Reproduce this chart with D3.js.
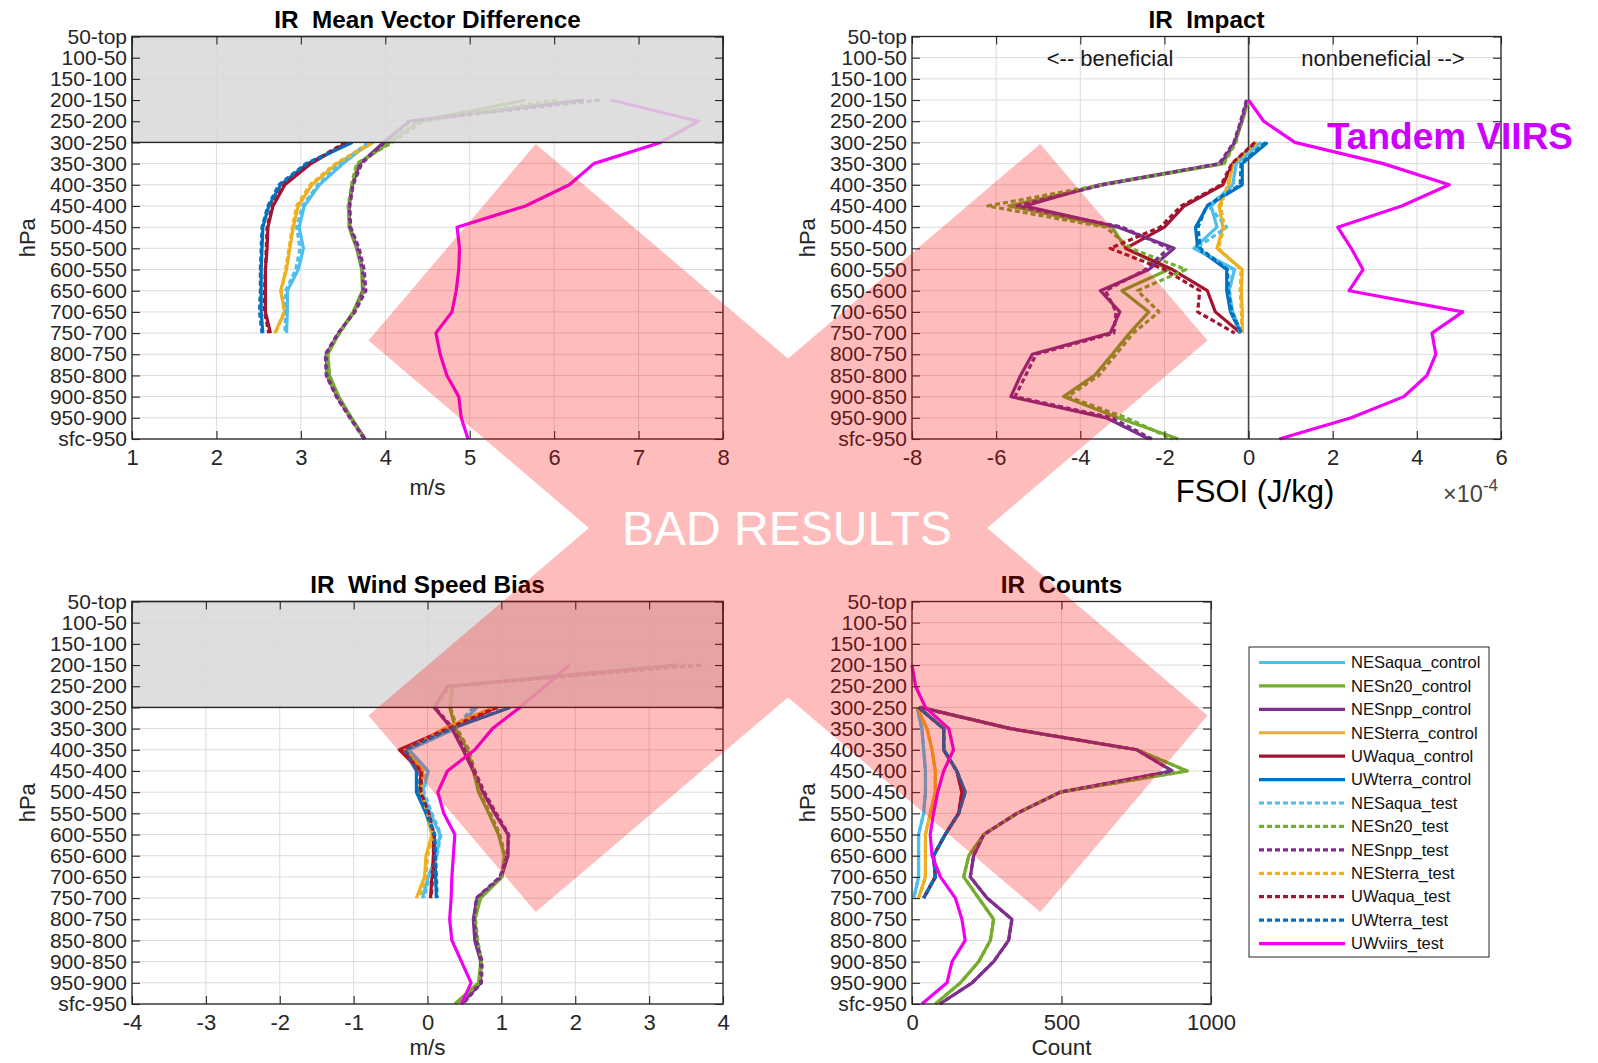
<!DOCTYPE html>
<html>
<head>
<meta charset="utf-8">
<script src="https://cdn.jsdelivr.net/npm/d3@7"></script>
<style>
  body { margin: 0; background: #fff; }
  svg { font-family: 'Liberation Sans', Arial, Helvetica, sans-serif; }
</style>
</head>
<body>
<div class="chart"></div>
<script>
const _ = null;

// pressure layers, top of the atmosphere first
const levels = ['50-top', '100-50', '150-100', '200-150', '250-200', '300-250', '350-300',
  '400-350', '450-400', '500-450', '550-500', '600-550', '650-600', '700-650', '750-700',
  '800-750', '850-800', '900-850', '950-900', 'sfc-950'];

const seriesNames = ['NESaqua_control', 'NESn20_control', 'NESnpp_control', 'NESterra_control',
  'UWaqua_control', 'UWterra_control', 'NESaqua_test', 'NESn20_test', 'NESnpp_test',
  'NESterra_test', 'UWaqua_test', 'UWterra_test', 'UWviirs_test'];
const seriesColors = ['#4DBEEE', '#77AC30', '#7E2F8E', '#EDB120', '#A2142F', '#0072BD',
  '#4DBEEE', '#77AC30', '#7E2F8E', '#EDB120', '#A2142F', '#0072BD', '#F000F4'];

// ---- IR Mean Vector Difference (m/s)
const mvdNESaquaCtl  = [_,_,_,_,_, 3.82,3.50,3.22,3.04,2.98,3.03,2.97,2.84,2.84,2.83, _,_,_,_,_];
const mvdNESn20Ctl   = [_,_,_, 5.66,4.40,4.05,3.68,3.61,3.57,3.57,3.66,3.72,3.73,3.62,3.45,3.32,3.34,3.45,3.60,3.76];
const mvdNESnppCtl   = [_,_,_, 6.35,4.28,3.98,3.70,3.61,3.57,3.58,3.67,3.73,3.74,3.63,3.45,3.30,3.31,3.43,3.59,3.76];
const mvdNESterraCtl = [_,_,_,_,_, 3.86,3.43,3.13,2.97,2.91,2.87,2.83,2.76,2.81,2.69, _,_,_,_,_];
const mvdUWaquaCtl   = [_,_,_,_,_, 3.55,3.12,2.81,2.67,2.61,2.60,2.58,2.58,2.58,2.64, _,_,_,_,_];
const mvdUWterraCtl  = [_,_,_,_,_, 3.61,3.08,2.76,2.62,2.55,2.54,2.53,2.53,2.53,2.55, _,_,_,_,_];
const mvdNESaquaTst  = [_,_,_,_,_, 3.80,3.47,3.20,3.02,2.95,2.99,2.94,2.82,2.82,2.81, _,_,_,_,_];
const mvdNESn20Tst   = [_,_,_, 6.03,4.45,4.08,3.66,3.60,3.56,3.58,3.67,3.73,3.75,3.63,3.46,3.31,3.32,3.44,3.59,3.75];
const mvdNESnppTst   = [_,_,_, 6.54,4.30,3.99,3.72,3.62,3.58,3.59,3.69,3.75,3.77,3.64,3.44,3.29,3.30,3.42,3.58,3.75];
const mvdNESterraTst = [_,_,_,_,_, 3.84,3.41,3.11,2.95,2.90,2.86,2.82,2.77,2.80,2.70, _,_,_,_,_];
const mvdUWaquaTst   = [_,_,_,_,_, 3.53,3.10,2.80,2.66,2.60,2.59,2.58,2.57,2.57,2.62, _,_,_,_,_];
const mvdUWterraTst  = [_,_,_,_,_, 3.60,3.06,2.74,2.61,2.54,2.53,2.52,2.52,2.51,2.54, _,_,_,_,_];
const mvdUWviirsTst  = [_,_,_, 6.67,7.71,7.26,6.47,6.18,5.66,4.85,4.88,4.87,4.84,4.79,4.60,4.65,4.73,4.87,4.90,4.98];

// ---- IR Impact, FSOI in units of 1e-4 J/kg
const fsoiNESaquaCtl  = [_,_,_,_,_, 0.31,-0.29,-0.38,-0.89,-0.75,-1.30,-0.33,-0.47,-0.38,-0.17, _,_,_,_,_];
const fsoiNESn20Ctl   = [_,_,_, 0.00,-0.15,-0.33,-0.61,-3.45,-5.70,-3.24,-2.92,-1.90,-3.01,-2.37,-2.83,-3.24,-3.66,-4.40,-3.10,-1.67];
const fsoiNESnppCtl   = [_,_,_, -0.03,-0.17,-0.33,-0.66,-3.55,-5.32,-3.10,-1.77,-2.37,-3.52,-3.06,-3.29,-5.14,-5.42,-5.65,-3.38,-2.37];
const fsoiNESterraCtl = [_,_,_,_,_, 0.22,-0.38,-0.47,-0.70,-0.61,-0.75,-0.15,-0.17,-0.15,-0.15, _,_,_,_,_];
const fsoiUWaquaCtl   = [_,_,_,_,_, 0.18,-0.38,-0.61,-1.53,-2.00,-2.92,-1.81,-0.98,-0.79,-0.19, _,_,_,_,_];
const fsoiUWterraCtl  = [_,_,_,_,_, 0.45,-0.15,-0.15,-0.98,-1.26,-1.21,-0.52,-0.52,-0.43,-0.19, _,_,_,_,_];
const fsoiNESaquaTst  = [_,_,_,_,_, 0.28,-0.31,-0.36,-0.95,-0.52,-1.25,-0.36,-0.45,-0.40,-0.19, _,_,_,_,_];
const fsoiNESn20Tst   = [_,_,_, -0.02,-0.17,-0.30,-0.58,-3.50,-6.20,-3.40,-2.80,-1.49,-2.64,-2.13,-2.74,-3.15,-3.56,-4.30,-2.90,-1.81];
const fsoiNESnppTst   = [_,_,_, -0.05,-0.19,-0.35,-0.70,-3.45,-5.50,-3.00,-1.90,-2.45,-3.40,-3.15,-3.20,-5.05,-5.30,-5.55,-3.25,-2.30];
const fsoiNESterraTst = [_,_,_,_,_, 0.20,-0.36,-0.50,-0.66,-0.58,-0.72,-0.18,-0.20,-0.17,-0.16, _,_,_,_,_];
const fsoiUWaquaTst   = [_,_,_,_,_, 0.15,-0.40,-0.65,-1.60,-2.10,-3.29,-2.00,-1.16,-1.21,-0.33, _,_,_,_,_];
const fsoiUWterraTst  = [_,_,_,_,_, 0.40,-0.18,-0.20,-1.00,-1.20,-1.15,-0.50,-0.48,-0.40,-0.17, _,_,_,_,_];
const fsoiUWviirsTst  = [_,_,_, 0.00,0.36,1.10,3.20,4.77,3.64,2.12,2.44,2.72,2.39,5.09,4.36,4.45,4.24,3.69,2.44,0.73];

// ---- IR Wind Speed Bias (m/s)
const biasNESaquaCtl  = [_,_,_,_,_, 0.67,0.38,-0.25,0.01,-0.07,0.04,0.17,0.12,0.01,-0.07, _,_,_,_,_];
const biasNESn20Ctl   = [_,_,_, 3.35,0.33,0.30,0.38,0.54,0.62,0.69,0.83,0.96,1.04,1.01,0.72,0.64,0.67,0.72,0.69,0.37];
const biasNESnppCtl   = [_,_,_, 3.40,0.27,0.09,0.33,0.48,0.62,0.75,0.91,1.09,1.09,1.00,0.67,0.62,0.64,0.72,0.72,0.46];
const biasNESterraCtl = [_,_,_,_,_, 0.90,0.22,-0.28,-0.07,-0.10,-0.02,0.06,-0.02,-0.04,-0.15, _,_,_,_,_];
const biasUWaquaCtl   = [_,_,_,_,_, 0.93,0.27,-0.38,-0.09,-0.10,0.01,0.08,0.08,0.06,0.04, _,_,_,_,_];
const biasUWterraCtl  = [_,_,_,_,_, 1.12,0.33,-0.31,-0.15,-0.15,-0.02,0.09,0.10,0.11,0.12, _,_,_,_,_];
const biasNESaquaTst  = [_,_,_,_,_, 0.62,0.36,-0.27,0.00,-0.05,0.06,0.18,0.13,0.03,-0.05, _,_,_,_,_];
const biasNESn20Tst   = [_,_,_, 3.50,0.35,0.31,0.40,0.56,0.64,0.70,0.85,0.98,1.05,1.00,0.70,0.65,0.68,0.73,0.70,0.40];
const biasNESnppTst   = [_,_,_, 3.70,0.29,0.10,0.35,0.50,0.64,0.77,0.93,1.10,1.08,0.98,0.66,0.63,0.66,0.74,0.73,0.48];
const biasNESterraTst = [_,_,_,_,_, 0.88,0.24,-0.30,-0.05,-0.09,0.00,0.08,0.00,-0.02,-0.12, _,_,_,_,_];
const biasUWaquaTst   = [_,_,_,_,_, 0.95,0.28,-0.36,-0.08,-0.09,0.02,0.09,0.09,0.07,0.05, _,_,_,_,_];
const biasUWterraTst  = [_,_,_,_,_, 1.10,0.32,-0.30,-0.14,-0.14,-0.01,0.10,0.11,0.12,0.13, _,_,_,_,_];
const biasUWviirsTst  = [_,_,_, 1.92,1.59,1.25,0.88,0.64,0.27,0.14,0.22,0.37,0.35,0.33,0.32,0.30,0.33,0.46,0.59,0.46];

// ---- IR Counts
const cntNESaquaCtl  = [_,_,_,_,_, 17,33,39,45,45,39,22,22,22,6, _,_,_,_,_];
const cntNESn20Ctl   = [_,_,_,_,_, 28,329,752,920,496,351,240,190,173,223,273,262,223,162,78];
const cntNESnppCtl   = [_,_,_,_,_, 28,329,752,870,496,351,240,206,195,251,334,323,273,201,93];
const cntNESterraCtl = [_,_,_,_,_, 17,50,67,78,78,61,45,45,45,22, _,_,_,_,_];
const cntUWaquaCtl   = [_,_,_,_,_, 22,106,106,150,167,156,111,72,78,39, _,_,_,_,_];
const cntUWterraCtl  = [_,_,_,_,_, 22,106,106,150,178,156,111,72,78,39, _,_,_,_,_];
const cntNESaquaTst  = [_,_,_,_,_, 17,33,39,45,45,39,22,22,22,6, _,_,_,_,_];
const cntNESn20Tst   = [_,_,_,_,_, 28,329,752,920,496,351,240,190,173,223,273,262,223,162,78];
const cntNESnppTst   = [_,_,_,_,_, 28,329,752,870,496,351,240,206,195,251,334,323,273,201,93];
const cntNESterraTst = [_,_,_,_,_, 17,50,67,78,78,61,45,45,45,22, _,_,_,_,_];
const cntUWaquaTst   = [_,_,_,_,_, 22,106,106,150,167,156,111,72,78,39, _,_,_,_,_];
const cntUWterraTst  = [_,_,_,_,_, 22,106,106,150,178,156,111,72,78,39, _,_,_,_,_];
const cntUWviirsTst  = [_,_,_, 0,12,45,123,139,106,86,72,61,67,95,145,167,178,134,117,33];

const mvdTicks = [1, 2, 3, 4, 5, 6, 7, 8];
const fsoiTicks = [-8, -6, -4, -2, 0, 2, 4, 6];
const biasTicks = [-4, -3, -2, -1, 0, 1, 2, 3, 4];
const cntTicks = [0, 500, 1000];

const svg = d3.select('.chart')
  .append('svg')
    .attr('width', 1598)
    .attr('height', 1063)
    .attr('viewBox', '0 0 1598 1063');

const axisColor = '#262626';

const styleAxis = (sel, size) => {
  sel.attr('font-family', null)
    .attr('font-size', size)
    .attr('color', axisColor);
  sel.select('.domain').remove();
  sel.selectAll('.tick line').attr('stroke-width', 1.1);
};

const drawPanel = (p) => {
  const g = svg.append('g');
  const x = d3.scaleLinear().domain(p.domain).range([p.x0, p.x1]);
  const y = d3.scalePoint().domain(levels).range([p.y0, p.y1]);
  const w = p.x1 - p.x0, h = p.y1 - p.y0;

  // grid
  const grid = g.append('g').attr('class', 'grid');
  grid.selectAll('.gx').data(p.ticks).enter().append('line')
    .attr('x1', d => x(d)).attr('x2', d => x(d))
    .attr('y1', p.y0).attr('y2', p.y1);
  grid.selectAll('.gy').data(levels).enter().append('line')
    .attr('x1', p.x0).attr('x2', p.x1)
    .attr('y1', d => y(d)).attr('y2', d => y(d));
  grid.selectAll('line').attr('stroke', '#dcdcdc').attr('stroke-width', 1);

  if (p.zeroLine) {
    g.append('line')
      .attr('x1', x(0)).attr('x2', x(0))
      .attr('y1', p.y0).attr('y2', p.y1)
      .attr('stroke', '#444').attr('stroke-width', 1.6);
  }

  //series lines
  const line = d3.line()
    .defined(d => d != null)
    .x(d => x(d))
    .y((d, i) => y(levels[i]));

  g.append('g')
    .selectAll('path')
    .data(p.series)
    .enter()
    .append('path')
      .attr('d', d => line(d))
      .attr('fill', 'none')
      .attr('stroke', (d, i) => seriesColors[i])
      .attr('stroke-width', 3.2)
      .attr('stroke-linejoin', 'round')
      .attr('stroke-dasharray', (d, i) => (i >= 6 && i < 12) ? '5,3' : null);

  // grey box over the upper layers
  if (p.shade) {
    g.append('rect')
      .attr('x', p.x0).attr('y', p.y0)
      .attr('width', w).attr('height', y(levels[5]) - p.y0)
      .attr('fill', '#d8d8d8').attr('fill-opacity', 0.86)
      .attr('stroke', axisColor).attr('stroke-width', 1.4);
  }

  // axes, MATLAB style ticks pointing inward
  g.append('g')
    .attr('transform', `translate(${p.x0},0)`)
    .call(d3.axisLeft(y).tickSizeInner(-8).tickSizeOuter(0).tickPadding(5))
    .call(styleAxis, 21);
  g.append('g')
    .attr('transform', `translate(${p.x1},0)`)
    .call(d3.axisRight(y).tickSizeInner(-8).tickSizeOuter(0).tickFormat(''))
    .call(styleAxis, 21);
  g.append('g')
    .attr('transform', `translate(0,${p.y1})`)
    .call(d3.axisBottom(x).tickValues(p.ticks).tickSizeInner(-8).tickSizeOuter(0)
      .tickPadding(10).tickFormat(d => String(d)))
    .call(styleAxis, 22);
  g.append('g')
    .attr('transform', `translate(0,${p.y0})`)
    .call(d3.axisTop(x).tickValues(p.ticks).tickSizeInner(-8).tickSizeOuter(0).tickFormat(''))
    .call(styleAxis, 22);

  g.append('rect')
    .attr('x', p.x0).attr('y', p.y0)
    .attr('width', w).attr('height', h)
    .attr('fill', 'none')
    .attr('stroke', axisColor)
    .attr('stroke-width', 1.3);

  // title and labels
  g.append('text')
    .attr('x', (p.x0 + p.x1) / 2).attr('y', p.y0 - 9)
    .attr('text-anchor', 'middle')
    .style('white-space', 'pre')
    .attr('font-size', 24.3).attr('font-weight', 'bold')
    .attr('fill', '#000')
    .text(p.title);

  g.append('text')
    .attr('transform', `translate(${p.x0 - 105},${(p.y0 + p.y1) / 2}) rotate(-90)`)
    .attr('text-anchor', 'middle')
    .attr('dy', '0.35em')
    .attr('font-size', 22)
    .attr('fill', axisColor)
    .text('hPa');

  if (p.xlabel) {
    g.append('text')
      .attr('x', (p.x0 + p.x1) / 2).attr('y', p.y1 + p.labelGap)
      .attr('text-anchor', 'middle')
      .attr('font-size', 22.5)
      .attr('fill', axisColor)
      .text(p.xlabel);
  }
  return { g, x, y };
};

drawPanel({
  title: 'IR  Mean Vector Difference', xlabel: 'm/s', labelGap: 56,
  x0: 132, x1: 723, y0: 36.5, y1: 439, domain: [1, 8], ticks: mvdTicks, shade: true,
  series: [mvdNESaquaCtl, mvdNESn20Ctl, mvdNESnppCtl, mvdNESterraCtl, mvdUWaquaCtl, mvdUWterraCtl,
    mvdNESaquaTst, mvdNESn20Tst, mvdNESnppTst, mvdNESterraTst, mvdUWaquaTst, mvdUWterraTst, mvdUWviirsTst]
});

const impact = drawPanel({
  title: 'IR  Impact', xlabel: null,
  x0: 912, x1: 1501, y0: 36.5, y1: 439, domain: [-8, 6], ticks: fsoiTicks, zeroLine: true,
  series: [fsoiNESaquaCtl, fsoiNESn20Ctl, fsoiNESnppCtl, fsoiNESterraCtl, fsoiUWaquaCtl, fsoiUWterraCtl,
    fsoiNESaquaTst, fsoiNESn20Tst, fsoiNESnppTst, fsoiNESterraTst, fsoiUWaquaTst, fsoiUWterraTst, fsoiUWviirsTst]
});

drawPanel({
  title: 'IR  Wind Speed Bias', xlabel: 'm/s', labelGap: 51,
  x0: 132, x1: 723, y0: 601.5, y1: 1004, domain: [-4, 4], ticks: biasTicks, shade: true,
  series: [biasNESaquaCtl, biasNESn20Ctl, biasNESnppCtl, biasNESterraCtl, biasUWaquaCtl, biasUWterraCtl,
    biasNESaquaTst, biasNESn20Tst, biasNESnppTst, biasNESterraTst, biasUWaquaTst, biasUWterraTst, biasUWviirsTst]
});

drawPanel({
  title: 'IR  Counts', xlabel: 'Count', labelGap: 51,
  x0: 912, x1: 1211, y0: 601.5, y1: 1004, domain: [0, 1000], ticks: cntTicks,
  series: [cntNESaquaCtl, cntNESn20Ctl, cntNESnppCtl, cntNESterraCtl, cntUWaquaCtl, cntUWterraCtl,
    cntNESaquaTst, cntNESn20Tst, cntNESnppTst, cntNESterraTst, cntUWaquaTst, cntUWterraTst, cntUWviirsTst]
});

// impact panel annotations
impact.g.append('text')
  .attr('x', 1110).attr('y', 66)
  .attr('text-anchor', 'middle').attr('font-size', 22).attr('fill', '#1a1a1a')
  .text('<-- beneficial');
impact.g.append('text')
  .attr('x', 1383).attr('y', 66)
  .attr('text-anchor', 'middle').attr('font-size', 22).attr('fill', '#1a1a1a')
  .text('nonbeneficial -->');
impact.g.append('text')
  .attr('x', 1255).attr('y', 502)
  .attr('text-anchor', 'middle').attr('font-size', 31).attr('fill', '#000')
  .text('FSOI (J/kg)');
const expo = impact.g.append('text')
  .attr('x', 1443).attr('y', 502)
  .attr('font-size', 23.5).attr('fill', '#444');
expo.append('tspan').text('\u00d710');
expo.append('tspan').attr('font-size', 17).attr('dy', -11).text('-4');

svg.append('text')
  .attr('x', 1327).attr('y', 149)
  .attr('font-size', 37).attr('font-weight', 'bold')
  .attr('fill', '#cc00ff')
  .text('Tandem VIIRS');

//legend
const legend = svg.append('g').attr('transform', 'translate(1249,647)');
legend.append('rect')
  .attr('width', 240).attr('height', 310)
  .attr('fill', '#fff').attr('stroke', axisColor).attr('stroke-width', 1);
const rows = legend.selectAll('.row')
  .data(seriesNames)
  .enter()
  .append('g')
    .attr('transform', (d, i) => `translate(0,${15.5 + i * 23.42})`);
rows.append('line')
  .attr('x1', 10).attr('x2', 96)
  .attr('stroke', (d, i) => seriesColors[i])
  .attr('stroke-width', 3.2)
  .attr('stroke-dasharray', (d, i) => (i >= 6 && i < 12) ? '5,3' : null);
rows.append('text')
  .attr('x', 102).attr('dy', '0.35em')
  .attr('font-size', 16.5).attr('fill', '#111')
  .text(d => d);

// big red cross over the figure
const cross = svg.append('g')
  .attr('opacity', 0.26)
  .attr('transform', 'translate(788,528)');
[40.4, -40.4].forEach(a => {
  cross.append('rect')
    .attr('x', -441).attr('y', -129)
    .attr('width', 882).attr('height', 258)
    .attr('fill', '#ff0000')
    .attr('transform', `rotate(${a})`);
});
svg.append('text')
  .attr('x', 787).attr('y', 545)
  .attr('text-anchor', 'middle')
  .attr('font-size', 48)
  .attr('fill', '#fff')
  .text('BAD RESULTS');
</script>
</body>
</html>
